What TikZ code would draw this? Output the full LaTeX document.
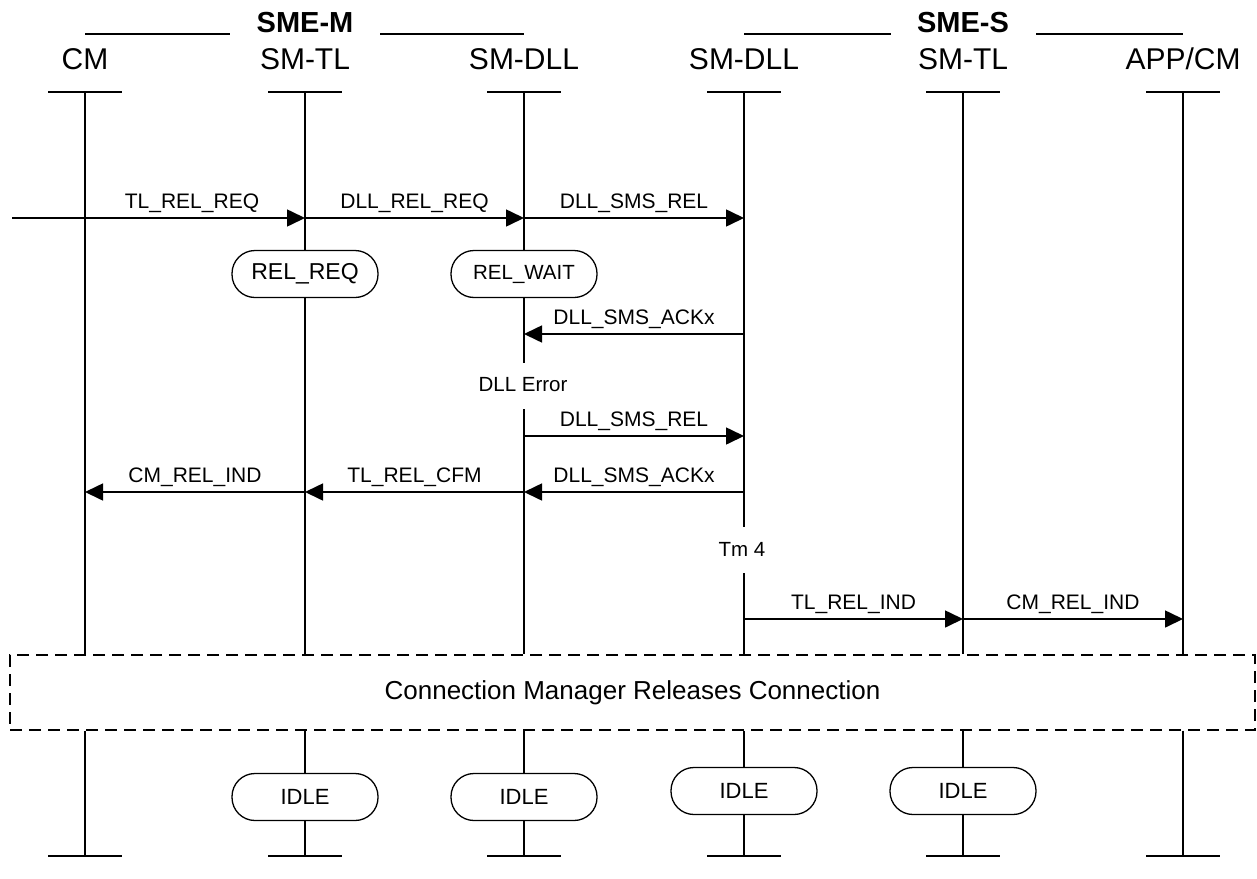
\documentclass[tikz,border=0pt]{standalone}
\usepackage{fontspec}
\setmainfont{Liberation Sans}
\usetikzlibrary{arrows.meta}
\begin{document}
\begin{tikzpicture}[x=1pt,y=-1pt,
  life/.style={line width=1.3pt},
  msg/.style={line width=1.6pt,-{Triangle[length=18pt,width=17pt]}},
  lbl/.style={font=\fontsize{21}{24}\selectfont, inner sep=0pt, anchor=base},
  hdr/.style={font=\fontsize{30}{34}\selectfont, inner sep=0pt},
  grp/.style={font=\fontsize{29}{34}\selectfont\bfseries, inner sep=0pt},
  statebox/.style={draw, line width=1.3pt, rounded corners=23pt, minimum width=146pt, minimum height=47pt, inner sep=0pt},
  notetext/.style={font=\fontsize{20.5}{24}\selectfont, inner sep=0pt, fill=white}
]
\useasboundingbox (0,0) rectangle (1257,878);

% group headers
\node[grp] (smem) at (305,23) {SME-M};
\node[grp] (smes) at (963,23) {SME-S};
\coordinate (gm1) at (85,34); \coordinate (gm2) at (230,34);
\coordinate (gm3) at (380,34); \coordinate (gm4) at (524,34);
\coordinate (gs1) at (744,34); \coordinate (gs2) at (891,34);
\coordinate (gs3) at (1036,34); \coordinate (gs4) at (1183,34);
\draw[life] (gm1) -- (gm2); \draw[life] (gm3) -- (gm4);
\draw[life] (gs1) -- (gs2); \draw[life] (gs3) -- (gs4);

% instance names
\node[hdr] (n1) at (85,59) {CM};
\node[hdr] (n2) at (305,59) {SM-TL};
\node[hdr] (n3) at (524,59) {SM-DLL};
\node[hdr] (n4) at (744,59) {SM-DLL};
\node[hdr] (n5) at (963,59) {SM-TL};
\node[hdr] (n6) at (1183,59) {APP/CM};

% top and bottom bars
\foreach \i/\x in {1/85,2/305,3/524,4/744,5/963,6/1183}{
  \coordinate (t\i) at (\x,92);
  \coordinate (b\i) at (\x,856);
  \coordinate (tl\i) at (\x-37,92); \coordinate (tr\i) at (\x+37,92);
  \coordinate (bl\i) at (\x-37,856); \coordinate (br\i) at (\x+37,856);
  \draw[life] (tl\i) -- (tr\i);
  \draw[life] (bl\i) -- (br\i);
}

% dashed box
\node[draw, line width=1.3pt, dash pattern=on 12pt off 7pt, minimum width=1245pt, minimum height=75pt, inner sep=0pt,
      font=\fontsize{26}{30}\selectfont] (cmr) at (632.5,692.5) {Connection Manager Releases Connection};

% states
\node[statebox, font=\fontsize{23}{26}\selectfont] (relreq) at (305,274) {REL\_REQ};
\node[statebox, font=\fontsize{20.5}{24}\selectfont] (relwait) at (524,274) {REL\_WAIT};
\node[statebox, font=\fontsize{22}{26}\selectfont] (idle2) at (305,797) {IDLE};
\node[statebox, font=\fontsize{22}{26}\selectfont] (idle3) at (524,797) {IDLE};
\node[statebox, font=\fontsize{22}{26}\selectfont] (idle4) at (744,791) {IDLE};
\node[statebox, font=\fontsize{22}{26}\selectfont] (idle5) at (963,791) {IDLE};

% notes
\node[notetext] (dllerr) at (523,385) {DLL Error};
\node[notetext] (tm4) at (742,549) {Tm 4};
\coordinate (e1) at (524,363); \coordinate (e2) at (524,409);
\coordinate (f1) at (744,527); \coordinate (f2) at (744,573);

% lifelines
\draw[life] (t1) -- (cmr.north -| t1);
\draw[life] (cmr.south -| t1) -- (b1);
\draw[life] (t2) -- (relreq.north);
\draw[life] (relreq.south) -- (cmr.north -| t2);
\draw[life] (cmr.south -| t2) -- (idle2.north);
\draw[life] (idle2.south) -- (b2);
\draw[life] (t3) -- (relwait.north);
\draw[life] (relwait.south) -- (e1);
\draw[life] (e2) -- (cmr.north -| t3);
\draw[life] (cmr.south -| t3) -- (idle3.north);
\draw[life] (idle3.south) -- (b3);
\draw[life] (t4) -- (f1);
\draw[life] (f2) -- (cmr.north -| t4);
\draw[life] (cmr.south -| t4) -- (idle4.north);
\draw[life] (idle4.south) -- (b4);
\draw[life] (t5) -- (cmr.north -| t5);
\draw[life] (cmr.south -| t5) -- (idle5.north);
\draw[life] (idle5.south) -- (b5);
\draw[life] (t6) -- (cmr.north -| t6);
\draw[life] (cmr.south -| t6) -- (b6);

% message points
\coordinate (in1) at (12,218);
\foreach \i/\x in {1/85,2/305,3/524,4/744,5/963,6/1183}{
  \coordinate (a\i) at (\x,218);
  \coordinate (c\i) at (\x,334);
  \coordinate (d\i) at (\x,436);
  \coordinate (g\i) at (\x,492);
  \coordinate (h\i) at (\x,619);
}

% messages
\draw[msg] (in1) -- (a2);
\node[lbl] (l1) at (192,208) {TL\_REL\_REQ};
\draw[msg] (a2) -- (a3);
\node[lbl] (l2) at (414.5,208) {DLL\_REL\_REQ};
\draw[msg] (a3) -- (a4);
\node[lbl] (l3) at (634,208) {DLL\_SMS\_REL};

\draw[msg] (c4) -- (c3);
\node[lbl] (l4) at (634,324) {DLL\_SMS\_ACKx};

\draw[msg] (d3) -- (d4);
\node[lbl] (l5) at (634,426) {DLL\_SMS\_REL};

\draw[msg] (g4) -- (g3);
\node[lbl] (l6) at (634,482) {DLL\_SMS\_ACKx};
\draw[msg] (g3) -- (g2);
\node[lbl] (l7) at (414.5,482) {TL\_REL\_CFM};
\draw[msg] (g2) -- (g1);
\node[lbl] (l8) at (195,482) {CM\_REL\_IND};

\draw[msg] (h4) -- (h5);
\node[lbl] (l9) at (853.5,609) {TL\_REL\_IND};
\draw[msg] (h5) -- (h6);
\node[lbl] (l10) at (1073,609) {CM\_REL\_IND};
\end{tikzpicture}
\end{document}
